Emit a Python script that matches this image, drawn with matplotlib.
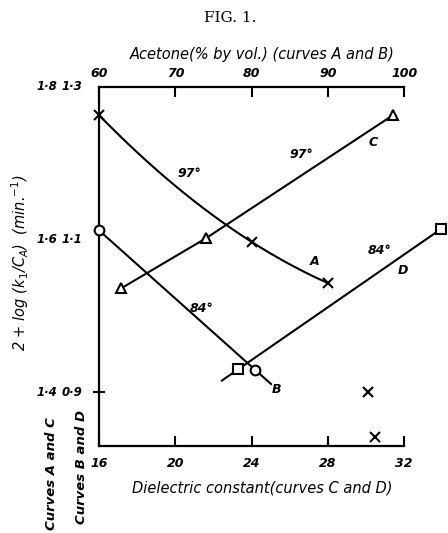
import numpy as np
import matplotlib.pyplot as plt

# Kurva A: aseton (% vol), 2 + log(k1/CA) skala 1.4-1.8 (97 derajat)
aseton_a = [60, 80, 90]
nilai_a = [1.763, 1.597, 1.543]
# dua tanda silang lepas di kanan bawah
aseton_lepas = [95.3, 96.2]
nilai_lepas = [1.400, 1.341]
# Kurva B: aseton, skala 0.9-1.3 (84 derajat)
aseton_b = [60, 80.5]
nilai_b = [1.112, 0.929]
# Kurva C: tetapan dielektrik, skala 1.4-1.8 (97 derajat)
dielektrik_c = [17.16, 21.63, 31.42]
nilai_c = [1.536, 1.602, 1.763]
# Kurva D: tetapan dielektrik, skala 0.9-1.3 (84 derajat)
dielektrik_d = [23.3, 33.95]
nilai_d = [0.930, 1.114]

tick_dielektrik = [16, 20, 24, 28, 32]
tick_aseton = [60, 70, 80, 90, 100]
tick_ac = ['1·8', '1·6', '1·4']
tick_bd = ['1·3', '1·1', '0·9']
geser = 0.5  # skala B/D = skala A/C - 0.5

plt.rcParams['font.family'] = 'DejaVu Sans'
plt.rcParams['mathtext.fontset'] = 'dejavusans'

fig = plt.figure(figsize=(4.48, 5.33), dpi=100)
ax = fig.add_axes([0.221, 0.163, 0.681, 0.674])
ax2 = ax.twiny()

ax.set_xlim(16, 32)
ax.set_ylim(1.3293, 1.8)
ax2.set_xlim(60, 100)

for a in (ax, ax2):
    for s in a.spines.values():
        s.set_visible(False)
        s.set_linewidth(1.6)
ax.spines['left'].set_visible(True)
ax.spines['bottom'].set_visible(True)
ax2.spines['top'].set_visible(True)

ax.set_xticks(tick_dielektrik)
ax.set_xticklabels([str(t) for t in tick_dielektrik], fontsize=9, fontstyle='italic', fontweight='bold')
ax.tick_params(axis='x', direction='in', length=7, width=1.5, pad=8)
ax.set_yticks([1.4])
ax.set_yticklabels([''])
ax.tick_params(axis='y', direction='inout', length=9, width=1.5)

ax2.set_xticks(tick_aseton)
ax2.set_xticklabels([str(t) for t in tick_aseton], fontsize=9, fontstyle='italic', fontweight='bold')
ax2.tick_params(axis='x', direction='in', length=7, width=1.5, pad=5)

# label sumbu kiri dua kolom
trans = ax.get_yaxis_transform()
for v, la, lb in zip([1.8, 1.6, 1.4], tick_ac, tick_bd):
    ax.text(-0.172, v, la, transform=trans, ha='center', va='center', fontsize=8.5,
            fontstyle='italic', fontweight='bold')
    ax.text(-0.088, v, lb, transform=trans, ha='center', va='center', fontsize=8.5,
            fontstyle='italic', fontweight='bold')

gaya_garis = dict(color='black', lw=1.5, clip_on=False, zorder=2)
gaya_titik = dict(linestyle='none', color='black', mfc='white', mew=1.5, ms=7,
                  clip_on=False, zorder=3)

# Kurva A (lengkung)
ka = np.polyfit(aseton_a, nilai_a, 2)
xa = np.linspace(aseton_a[0], aseton_a[-1], 100)
ax2.plot(xa, np.polyval(ka, xa), **gaya_garis)
ax2.plot(aseton_a, nilai_a, marker='x', **gaya_titik)
ax2.plot(aseton_lepas, nilai_lepas, marker='x', **gaya_titik)

# Kurva B
kb = np.polyfit(aseton_b, nilai_b, 1)
xb = np.array([aseton_b[0], aseton_b[-1] + 0.1 * (aseton_b[-1] - aseton_b[0])])
ax2.plot(xb, np.polyval(kb, xb) + geser, **gaya_garis)
ax2.plot(aseton_b, np.array(nilai_b) + geser, marker='o', **gaya_titik)

# Kurva C
ax.plot(dielektrik_c, nilai_c, **gaya_garis)
ax.plot(dielektrik_c, nilai_c, marker='^', **gaya_titik)

# Kurva D
kd = np.polyfit(dielektrik_d, nilai_d, 1)
xd = np.array([dielektrik_d[0] - 0.08 * (dielektrik_d[-1] - dielektrik_d[0]), dielektrik_d[-1]])
ax.plot(xd, np.polyval(kd, xd) + geser, **gaya_garis)
ax.plot(dielektrik_d, np.array(nilai_d) + geser, marker='s', **gaya_titik)

# keterangan pada kurva
gaya_teks = dict(fontsize=9, fontstyle='italic', fontweight='bold', ha='center', va='center')
ax.text(20.74, 1.687, '97°', **gaya_teks)
ax.text(26.63, 1.711, '97°', **gaya_teks)
ax.text(30.37, 1.727, 'C', **gaya_teks)
ax.text(27.3, 1.571, 'A', **gaya_teks)
ax.text(21.37, 1.510, '84°', **gaya_teks)
ax.text(30.74, 1.586, '84°', **gaya_teks)
ax.text(31.95, 1.560, 'D', **gaya_teks)
ax.text(25.3, 1.404, 'B', **gaya_teks)

# judul dan label sumbu
fig.text(0.513, 0.966, 'FIG. 1.', fontsize=11, family='DejaVu Serif', ha='center', va='center')
fig.text(0.585, 0.897, 'Acetone(% by vol.) (curves A and B)', fontsize=10.5,
         fontstyle='italic', ha='center', va='center')
fig.text(0.585, 0.084, 'Dielectric constant(curves C and D)', fontsize=10.5,
         fontstyle='italic', ha='center', va='center')
fig.text(0.045, 0.508, '2 + log (k$_1$/C$_A$)  (min.$^{-1}$)', fontsize=10.5,
         fontstyle='italic', rotation=90, ha='center', va='center')
fig.text(0.116, 1 - 417 / 533, 'Curves A and C', fontsize=9.5, fontstyle='italic',
         fontweight='bold', rotation=90, ha='center', va='top')
fig.text(0.183, 1 - 410 / 533, 'Curves B and D', fontsize=9.5, fontstyle='italic',
         fontweight='bold', rotation=90, ha='center', va='top')

fig.savefig('out.png', dpi=100)
